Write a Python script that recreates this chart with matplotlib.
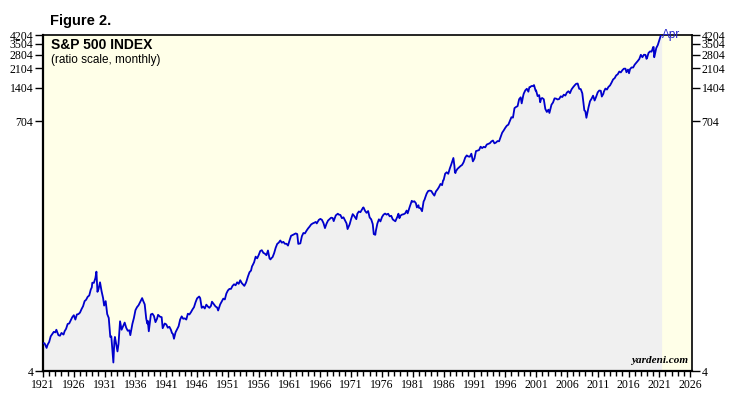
# S&P 500 월간 지수 (비율 스케일) 재현
import matplotlib
matplotlib.use("Agg")
import matplotlib.pyplot as plt
from matplotlib.ticker import FixedLocator
import numpy as np

# 데이터: 월 (YYYY-MM) 과 월평균 지수값
months = [
    "1921-01", "1921-04", "1921-08", "1921-10",
    "1922-01", "1922-04", "1922-07", "1922-10",
    "1923-01", "1923-03", "1923-07", "1923-10",
    "1924-01", "1924-05", "1924-07", "1924-10",
    "1925-01", "1925-04", "1925-07", "1925-10",
    "1926-01", "1926-04", "1926-07", "1926-10",
    "1927-01", "1927-04", "1927-07", "1927-10",
    "1928-01", "1928-04", "1928-07", "1928-10", "1928-12",
    "1929-01", "1929-04", "1929-07", "1929-09", "1929-11",
    "1930-01", "1930-04", "1930-07", "1930-10", "1930-12",
    "1931-01", "1931-03", "1931-06", "1931-09", "1931-12",
    "1932-02", "1932-04", "1932-06", "1932-08", "1932-09", "1932-12",
    "1933-02", "1933-04", "1933-07", "1933-10",
    "1934-01", "1934-04", "1934-07", "1934-10",
    "1935-01", "1935-03", "1935-07", "1935-10",
    "1936-01", "1936-04", "1936-07", "1936-10",
    "1937-02", "1937-04", "1937-07", "1937-10", "1937-12",
    "1938-01", "1938-03", "1938-07", "1938-10",
    "1939-01", "1939-04", "1939-07", "1939-09",
    "1940-01", "1940-04", "1940-06", "1940-10",
    "1941-01", "1941-04", "1941-07", "1941-10", "1941-12",
    "1942-02", "1942-04", "1942-07", "1942-10",
    "1943-01", "1943-04", "1943-07", "1943-10",
    "1944-01", "1944-04", "1944-07", "1944-10",
    "1945-01", "1945-04", "1945-07", "1945-10",
    "1946-01", "1946-05", "1946-07", "1946-10",
    "1947-01", "1947-04", "1947-07", "1947-10",
    "1948-01", "1948-04", "1948-06", "1948-10",
    "1949-01", "1949-04", "1949-06", "1949-10",
    "1950-01", "1950-04", "1950-07", "1950-10",
    "1951-01", "1951-04", "1951-07", "1951-10",
    "1952-01", "1952-04", "1952-07", "1952-10",
    "1953-01", "1953-04", "1953-09", "1953-12",
    "1954-01", "1954-04", "1954-07", "1954-10", "1954-12",
    "1955-01", "1955-04", "1955-07", "1955-10",
    "1956-01", "1956-04", "1956-07", "1956-10",
    "1957-01", "1957-04", "1957-07", "1957-10", "1957-12",
    "1958-01", "1958-04", "1958-07", "1958-10",
    "1959-01", "1959-04", "1959-07", "1959-10",
    "1960-01", "1960-04", "1960-07", "1960-10",
    "1961-01", "1961-04", "1961-07", "1961-10",
    "1962-01", "1962-04", "1962-06", "1962-10",
    "1963-01", "1963-04", "1963-07", "1963-10",
    "1964-01", "1964-04", "1964-07", "1964-10",
    "1965-01", "1965-04", "1965-06", "1965-10",
    "1966-01", "1966-04", "1966-07", "1966-10",
    "1967-01", "1967-04", "1967-07", "1967-10",
    "1968-01", "1968-03", "1968-07", "1968-11",
    "1969-01", "1969-04", "1969-07", "1969-10",
    "1970-01", "1970-04", "1970-06", "1970-10",
    "1971-01", "1971-04", "1971-07", "1971-11",
    "1972-01", "1972-04", "1972-07", "1972-12",
    "1973-01", "1973-04", "1973-07", "1973-10",
    "1974-01", "1974-04", "1974-07", "1974-09", "1974-12",
    "1975-01", "1975-04", "1975-07", "1975-10",
    "1976-01", "1976-04", "1976-07", "1976-10",
    "1977-01", "1977-04", "1977-07", "1977-10",
    "1978-01", "1978-03", "1978-07", "1978-09", "1978-11",
    "1979-01", "1979-04", "1979-07", "1979-10",
    "1980-01", "1980-03", "1980-07", "1980-11",
    "1981-01", "1981-04", "1981-07", "1981-09", "1981-12",
    "1982-01", "1982-04", "1982-07", "1982-10", "1982-12",
    "1983-01", "1983-04", "1983-07", "1983-10",
    "1984-01", "1984-04", "1984-07", "1984-10",
    "1985-01", "1985-04", "1985-07", "1985-10", "1985-12",
    "1986-01", "1986-04", "1986-07", "1986-10",
    "1987-01", "1987-04", "1987-08", "1987-10", "1987-11", "1987-12",
    "1988-01", "1988-04", "1988-07", "1988-10",
    "1989-01", "1989-04", "1989-07", "1989-10",
    "1990-01", "1990-04", "1990-07", "1990-10",
    "1991-01", "1991-04", "1991-07", "1991-10",
    "1992-01", "1992-04", "1992-07", "1992-10",
    "1993-01", "1993-04", "1993-07", "1993-10",
    "1994-01", "1994-04", "1994-07", "1994-10",
    "1995-01", "1995-04", "1995-07", "1995-10",
    "1996-01", "1996-04", "1996-07", "1996-10",
    "1997-01", "1997-04", "1997-07", "1997-10",
    "1998-01", "1998-04", "1998-07", "1998-09", "1998-12",
    "1999-01", "1999-04", "1999-07", "1999-10", "1999-12",
    "2000-01", "2000-04", "2000-07", "2000-09", "2000-12",
    "2001-01", "2001-04", "2001-07", "2001-09", "2001-11",
    "2002-01", "2002-04", "2002-07", "2002-10",
    "2003-01", "2003-03", "2003-07", "2003-10",
    "2004-01", "2004-04", "2004-07", "2004-10",
    "2005-01", "2005-04", "2005-07", "2005-10",
    "2006-01", "2006-04", "2006-07", "2006-10",
    "2007-01", "2007-04", "2007-07", "2007-10",
    "2008-01", "2008-04", "2008-07", "2008-10", "2008-11",
    "2009-01", "2009-03", "2009-07", "2009-10",
    "2010-01", "2010-04", "2010-07", "2010-10",
    "2011-01", "2011-04", "2011-07", "2011-09", "2011-12",
    "2012-01", "2012-04", "2012-07", "2012-10",
    "2013-01", "2013-04", "2013-07", "2013-10",
    "2014-01", "2014-04", "2014-07", "2014-10",
    "2015-01", "2015-04", "2015-07", "2015-09", "2015-12",
    "2016-02", "2016-04", "2016-07", "2016-10",
    "2017-01", "2017-04", "2017-07", "2017-10",
    "2018-01", "2018-04", "2018-07", "2018-10", "2018-12",
    "2019-01", "2019-04", "2019-07", "2019-10",
    "2020-01", "2020-02", "2020-03", "2020-04", "2020-07", "2020-10",
    "2021-01", "2021-04",
]
sp500 = [
    7.1, 7.1, 6.45, 6.9,
    7.3, 8.2, 8.6, 9.0,
    8.9, 9.4, 8.4, 8.3,
    8.8, 8.5, 9.1, 9.6,
    10.6, 10.7, 11.4, 12.2,
    12.7, 11.6, 12.9, 13.0,
    13.4, 14.4, 15.3, 17.0,
    17.5, 18.6, 19.1, 21.6, 22.6,
    24.9, 24.8, 27.4, 31.3, 20.6,
    21.7, 25.1, 20.9, 18.1, 15.5,
    16.0, 17.0, 13.0, 12.0, 8.1,
    8.2, 6.3, 4.77, 7.5, 8.1, 6.8,
    6.0, 7.0, 11.2, 9.4,
    10.1, 10.9, 9.8, 9.2,
    9.3, 8.4, 10.6, 12.0,
    14.1, 15.0, 15.6, 16.6,
    18.1, 17.1, 15.9, 11.8, 10.7,
    11.3, 9.1, 12.9, 13.1,
    12.5, 11.0, 11.8, 12.8,
    12.3, 12.2, 9.7, 10.7,
    10.5, 9.8, 10.0, 9.4, 8.8,
    8.6, 7.8, 8.9, 9.5,
    10.1, 11.6, 12.4, 11.8,
    11.9, 11.6, 13.1, 12.9,
    13.5, 14.3, 15.0, 16.6,
    18.0, 18.7, 18.1, 14.8,
    15.2, 14.6, 15.8, 15.2,
    14.8, 15.4, 16.8, 15.9,
    15.2, 14.9, 14.0, 15.9,
    16.9, 17.9, 17.6, 19.9,
    21.2, 21.9, 21.9, 23.3,
    24.1, 23.6, 25.1, 24.3,
    26.2, 24.7, 23.3, 24.8,
    25.5, 28.3, 30.9, 32.0, 35.0,
    35.6, 38.0, 42.7, 41.2,
    44.2, 48.0, 48.8, 46.2,
    45.4, 44.0, 48.5, 41.2, 40.3,
    41.1, 42.3, 45.9, 51.3,
    55.6, 57.1, 59.7, 57.0,
    58.0, 55.7, 55.8, 53.7,
    59.7, 65.8, 66.8, 68.0,
    69.1, 68.1, 55.6, 56.2,
    65.1, 69.7, 69.1, 73.0,
    76.5, 79.5, 83.1, 84.9,
    86.1, 87.6, 85.0, 91.4,
    93.3, 91.6, 85.8, 77.1,
    84.5, 90.2, 93.0, 95.7,
    95.0, 89.1, 100.3, 103.9,
    102.0, 101.3, 94.7, 96.4,
    90.3, 85.0, 75.6, 83.3,
    93.5, 103.0, 99.0, 92.8,
    103.9, 108.8, 107.2, 117.5,
    118.4, 110.3, 105.8, 109.8,
    96.1, 92.5, 83.8, 68.1, 67.1,
    72.6, 84.7, 92.5, 88.6,
    96.9, 101.9, 104.2, 101.9,
    103.8, 98.4, 99.5, 92.3,
    90.3, 88.8, 97.7, 103.9, 94.7,
    99.7, 102.0, 102.7, 104.5,
    110.9, 104.7, 119.8, 135.7,
    133.0, 134.4, 129.1, 118.3, 123.8,
    117.3, 116.4, 109.4, 133.7, 139.4,
    144.3, 157.7, 166.4, 167.7,
    166.4, 157.6, 151.1, 164.8,
    171.6, 180.6, 192.5, 187.7, 207.3,
    208.2, 238.0, 245.0, 237.4,
    264.5, 289.3, 329.4, 280.0, 245.0, 241.0,
    250.5, 263.0, 270.7, 279.0,
    285.4, 302.3, 331.9, 347.4,
    340.0, 338.2, 360.0, 307.1,
    325.5, 379.7, 384.2, 387.9,
    416.1, 404.2, 415.1, 410.2,
    435.2, 441.0, 447.3, 463.9,
    473.0, 446.0, 453.7, 467.8,
    465.3, 507.9, 556.0, 582.9,
    614.4, 642.5, 656.5, 707.4,
    766.2, 759.6, 925.3, 947.3,
    963.4, 1111.8, 1156.6, 1020.6, 1199.0,
    1248.8, 1335.6, 1381.0, 1300.0, 1428.0,
    1425.6, 1461.4, 1462.2, 1490.0, 1330.9,
    1335.6, 1185.0, 1211.0, 1044.6, 1129.0,
    1140.0, 1112.0, 909.9, 854.6,
    895.8, 837.0, 993.0, 1039.0,
    1132.0, 1126.0, 1106.0, 1118.0,
    1181.0, 1163.0, 1222.0, 1199.0,
    1278.0, 1312.0, 1261.0, 1362.0,
    1424.0, 1480.0, 1530.0, 1539.0,
    1380.0, 1371.0, 1257.0, 968.8, 883.0,
    865.6, 757.0, 936.0, 1067.0,
    1123.0, 1197.0, 1083.0, 1171.0,
    1282.0, 1331.0, 1325.0, 1175.0, 1244.0,
    1300.0, 1387.0, 1359.0, 1437.0,
    1480.0, 1570.0, 1676.0, 1720.0,
    1822.0, 1864.0, 1973.0, 1937.0,
    2028.0, 2094.0, 2094.0, 1944.0, 2054.0,
    1904.0, 2075.0, 2149.0, 2143.0,
    2275.0, 2359.0, 2454.0, 2557.0,
    2790.0, 2654.0, 2794.0, 2786.0, 2567.0,
    2607.0, 2903.0, 2996.0, 2978.0,
    3278.0, 3278.0, 2652.0, 2762.0, 3207.0, 3418.0,
    3793.0, 4180.0,
]

# 축 눈금
y_ticks = [4, 704, 1404, 2104, 2804, 3504, 4204]
x_major = list(range(1921, 2027, 5))

# 월 문자열 -> 소수 연도
years = np.array([int(m[:4]) + (int(m[5:]) - 1) / 12 for m in months])
values = np.array(sp500)

fig = plt.figure(figsize=(7.44, 3.97), dpi=100)
ax = fig.add_axes([43 / 744, 1 - 371 / 397, 649 / 744, 336 / 397])
ax.set_facecolor("#FFFFE8")

ax.fill_between(years, 4, values, color="#F0F0F0", zorder=1)
ax.plot(years, values, color="#0000CC", lw=1.3, zorder=3)

ax.set_yscale("log")
ax.set_ylim(4, 4204)
ax.set_xlim(1921, 2026.3)

ax.yaxis.set_major_locator(FixedLocator(y_ticks))
ax.yaxis.set_minor_locator(FixedLocator([]))
ax.set_yticklabels([str(v) for v in y_ticks])
ax.xaxis.set_major_locator(FixedLocator(x_major))
ax.xaxis.set_minor_locator(FixedLocator(list(range(1921, 2027))))
ax.set_xticklabels([str(v) for v in x_major])

ax.tick_params(axis="y", which="major", direction="out", length=6, width=1,
               left=True, right=True, labelleft=True, labelright=True,
               labelsize=8.5, pad=1)
ax.tick_params(axis="x", which="major", direction="out", length=4, width=1,
               labelsize=8.5, pad=2)
ax.tick_params(axis="x", which="minor", direction="out", length=3.5, width=1)
for lab in ax.get_xticklabels() + ax.get_yticklabels():
    lab.set_fontfamily("Liberation Serif")
for t in ax.yaxis.get_major_ticks():
    t.label2.set_fontfamily("Liberation Serif")

ax.spines["left"].set_linewidth(1.6)
ax.spines["bottom"].set_linewidth(1.6)
ax.spines["top"].set_linewidth(1.2)
ax.spines["right"].set_linewidth(1.2)

# 제목과 주석
fig.text(50 / 744, 1 - 21 / 397, "Figure 2.", fontsize=10.5, fontweight="bold",
         fontfamily="Liberation Sans", va="center")
ax.text(0.012, 0.970, "S&P 500 INDEX", transform=ax.transAxes, fontsize=10,
        fontweight="bold", fontfamily="Liberation Sans", va="center")
ax.text(0.012, 0.926, "(ratio scale, monthly)", transform=ax.transAxes,
        fontsize=8.5, fontfamily="Liberation Sans", va="center")
ax.text(0.994, 0.018, "yardeni.com", transform=ax.transAxes, fontsize=8,
        fontweight="bold", fontstyle="italic", fontfamily="Liberation Serif",
        ha="right", va="bottom")
ax.text(years[-1] + 0.2, values[-1], "Apr", color="#2222CC", fontsize=8.5,
        fontfamily="Liberation Sans", va="center", ha="left")

fig.savefig("out.png", dpi=100)
